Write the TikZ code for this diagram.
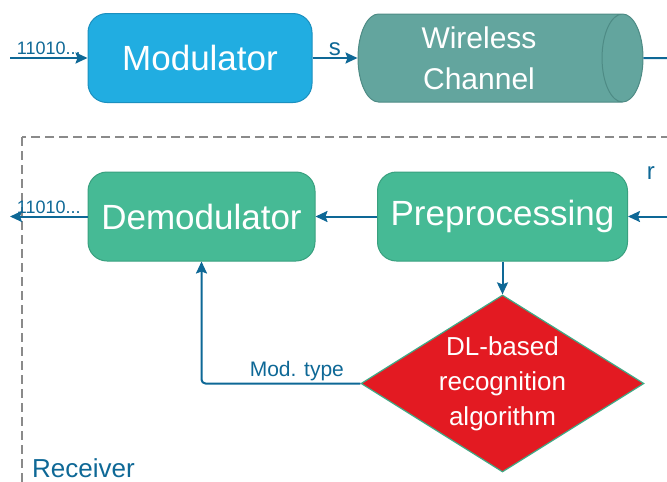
\documentclass[tikz,border=0pt]{standalone}
\usepackage{fontspec}
\setmainfont{Liberation Sans}
\usetikzlibrary{arrows.meta,shapes.geometric,positioning}
\definecolor{modblue}{HTML}{21ADE1}
\definecolor{modedge}{HTML}{1B90BF}
\definecolor{chanfill}{HTML}{63A59E}
\definecolor{chanedge}{HTML}{4E8B85}
\definecolor{rxfill}{HTML}{46BA95}
\definecolor{rxedge}{HTML}{39A07F}
\definecolor{dlred}{HTML}{E31A22}
\definecolor{dledge}{HTML}{3FAA86}
\definecolor{linkblue}{HTML}{0E6896}
\definecolor{boxgray}{HTML}{8A8A8A}

\begin{document}
\begin{tikzpicture}[x=1pt, y=1pt,
	block/.style={rounded corners=19pt, draw, line width=1pt, text=white,
		font=\fontsize{35}{40}\selectfont, minimum height=89pt, inner sep=0pt},
	link/.style={draw=linkblue, line width=2pt,
		-{Stealth[length=12pt,width=11pt,inset=2pt]}},
	tag/.style={text=linkblue, font=\fontsize{21}{24}\selectfont, inner sep=2pt}
	]
	\clip (0,0) rectangle (667,-482);
	
	% receiver frame
	\draw[boxgray, line width=1.5pt, dash pattern=on 9pt off 5pt] (22,-137) rectangle (720,-540);
	\node[tag, anchor=base west, font=\fontsize{26}{30}\selectfont] (rx) at (30,-477) {Receiver};
	
	% transmitter side
	\node[block, draw=modedge, fill=modblue, minimum width=224pt] (mod) at (200,-58) {Modulator};
	\node[cylinder, draw=chanedge, fill=chanfill, line width=1pt, text=white, aspect=0.65,
		minimum height=285pt, minimum width=88pt, inner sep=0pt, align=center,
		font=\fontsize{30}{41}\selectfont] (chan) at (490,-58) {Wireless\hspace*{22pt}\\Channel\hspace*{22pt}};
	
	\coordinate (bitsin) at (10,-58);
	\coordinate (chanout) at (680,-58);
	\draw[link] (bitsin) -- (mod) node[midway, above, tag, font=\fontsize{18}{20}\selectfont] {11010...};
	\draw[link] (mod) -- (chan) node[midway, above, tag, font=\fontsize{24}{26}\selectfont, inner sep=1pt] {s};
	\draw[draw=linkblue, line width=2pt] (chan) -- (chanout);
	
	% receiver side
	\node[block, draw=rxedge, fill=rxfill, minimum width=227pt] (demod) at (201.5,-216.5) {Demodulator};
	\node[block, draw=rxedge, fill=rxfill, minimum width=250pt] (pre) at (502.5,-216.5) {Preprocessing};
	\node[diamond, draw=dledge, fill=dlred, line width=1.2pt, text=white, aspect=1.6,
		inner sep=0pt, minimum width=283pt, minimum height=177pt, align=center,
		font=\fontsize{26}{35}\selectfont] (dl) at (502.5,-383.5) {DL-based\\recognition\\algorithm};
	
	\coordinate (rin) at (690,-216.5);
	\coordinate (bitsout) at (10,-216.5);
	\draw[link] (rin) -- (pre) node[pos=0.63, above=34pt, tag, font=\fontsize{24}{26}\selectfont] {r};
	\draw[link] (pre) -- (demod);
	\draw[link] (demod) -- (bitsout) node[midway, above, tag, font=\fontsize{18}{20}\selectfont] {11010...};
	\draw[link] (pre) -- (dl);
	\draw[link, rounded corners=4pt] (dl) -| (demod) node[pos=0.2, above, tag] {Mod. type};
	
\end{tikzpicture}
\end{document}
